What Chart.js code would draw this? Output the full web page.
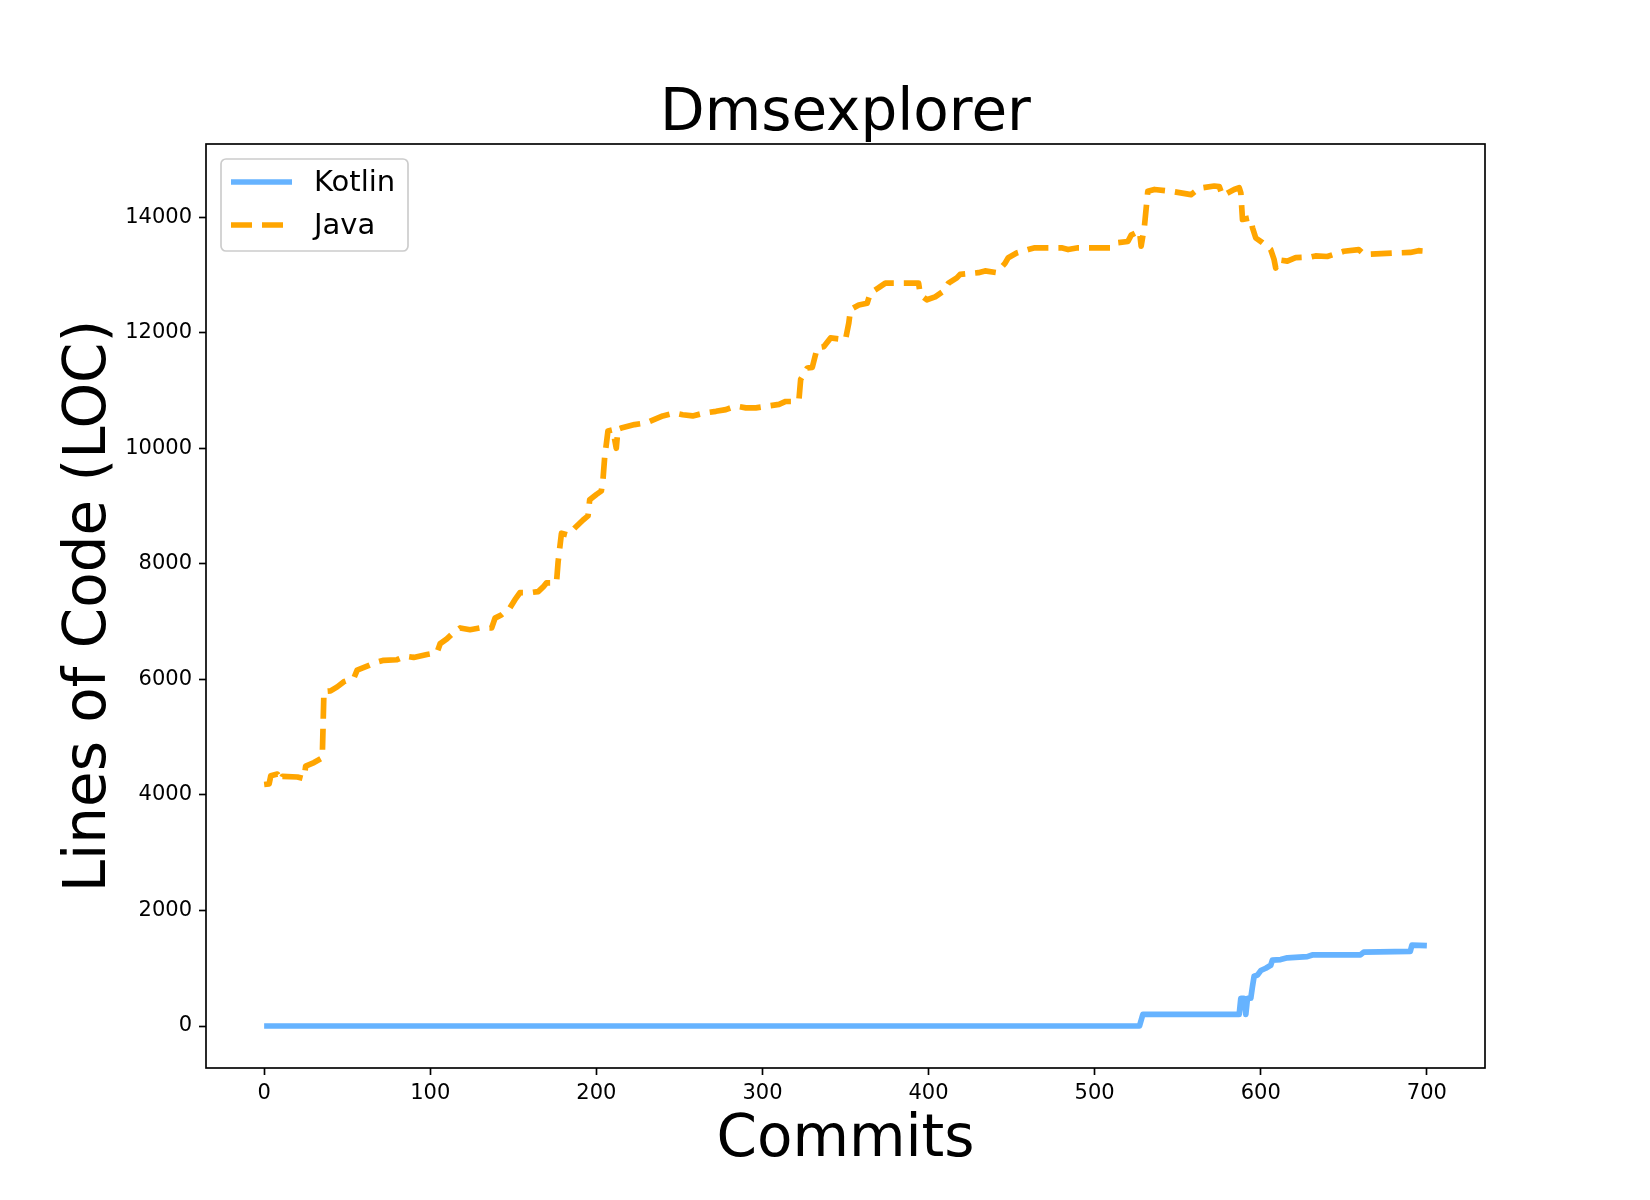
<!DOCTYPE html>
<html>
<head>
<meta charset="utf-8">
<script src="https://cdn.jsdelivr.net/npm/chart.js@4.4.0/dist/chart.umd.min.js"></script>
<style>
  body { margin: 0; background: #fff; }
  canvas { display: block; }
</style>
</head>
<body>
<canvas id="myChart" width="1650" height="1200"></canvas>
<script>
// values: [commit, lines of code] at each change
var kotlinPoints = [
	[0, 0], [527, 0], [529, 200], [587, 200], [588, 480], [590, 480], [591, 200],
	[592, 480], [594, 480], [595, 680], [596, 860], [598, 880], [600, 960],
	[603, 1000], [606, 1050], [607, 1140], [612, 1150], [616, 1180], [628, 1200],
	[631, 1230], [660, 1230], [662, 1280], [690, 1290], [691, 1400], [700, 1390]
];
var javaPoints = [
	[0, 4180], [3, 4190], [4, 4330], [8, 4360], [10, 4250], [11, 4320], [20, 4310],
	[24, 4280], [25, 4500], [30, 4560], [35, 4640], [36, 5790], [40, 5800],
	[44, 5870], [48, 5960], [54, 6020], [56, 6160], [62, 6230], [67, 6290],
	[72, 6330], [80, 6340], [85, 6400], [90, 6380], [98, 6430], [104, 6460],
	[106, 6620], [110, 6700], [113, 6780], [118, 6890], [124, 6860], [130, 6890],
	[137, 6890], [139, 7060], [143, 7120], [148, 7240], [151, 7380], [154, 7500],
	[160, 7500], [165, 7520], [168, 7600], [170, 7670], [176, 7670], [177, 8040],
	[179, 8530], [183, 8500], [187, 8620], [192, 8760], [195, 8830], [196, 9110],
	[200, 9200], [203, 9260], [204, 9460], [205, 9840], [207, 10300], [210, 10320],
	[212, 10000], [213, 10330], [215, 10350], [223, 10410], [230, 10440],
	[235, 10500], [240, 10560], [247, 10610], [252, 10580], [258, 10560],
	[265, 10610], [272, 10640], [278, 10670], [284, 10730], [290, 10700],
	[296, 10700], [303, 10730], [310, 10760], [314, 10810], [321, 10810],
	[322, 10850], [323, 11190], [327, 11390], [330, 11400], [333, 11740],
	[337, 11760], [341, 11910], [350, 11880], [352, 12170], [353, 12400],
	[358, 12480], [363, 12510], [365, 12690], [370, 12780], [374, 12860],
	[394, 12860], [395, 12660], [399, 12570], [404, 12620], [409, 12720],
	[412, 12860], [417, 12950], [419, 13010], [430, 13040], [434, 13070],
	[441, 13040], [446, 13200], [448, 13300], [453, 13380], [460, 13440],
	[464, 13470], [480, 13470], [484, 13440], [490, 13470], [510, 13470],
	[514, 13560], [520, 13580], [522, 13690], [527, 13760], [528, 13500],
	[530, 13850], [532, 14450], [536, 14480], [546, 14450], [558, 14390],
	[563, 14500], [572, 14540], [575, 14530], [577, 14370], [584, 14480],
	[587, 14510], [588, 14420], [589, 13960], [594, 13990], [595, 13820],
	[597, 13640], [601, 13560], [606, 13440], [608, 13270], [609, 13120],
	[611, 13260], [616, 13240], [621, 13300], [630, 13310], [633, 13330],
	[640, 13320], [650, 13410], [659, 13440], [662, 13360], [666, 13360],
	[680, 13380], [690, 13390], [695, 13420], [700, 13410]
];
var seriesNames = ['Kotlin', 'Java'];
var xTicks = [0, 100, 200, 300, 400, 500, 600, 700];
var yTicks = [0, 2000, 4000, 6000, 8000, 10000, 12000, 14000];

var FONT = '"DejaVu Sans", sans-serif';
var kotlinColor = '#66b3ff';
var javaColor = '#ffa500';
var lw = 5.7;
var dash = [21, 10];

function toXY(list) {
	return list.map(function(p) { return {x: p[0], y: p[1]}; });
}

// matplotlib-like frame and legend
var framePlugin = {
	id: 'frame',
	afterDraw: function(chart) {
		var ctx = chart.ctx;
		var a = chart.chartArea;
		ctx.save();
		ctx.strokeStyle = '#000';
		ctx.lineWidth = 1.67;
		ctx.strokeRect(a.left, a.top, a.right - a.left, a.bottom - a.top);

		// legend box
		var bx = 221, by = 159, bw = 187, bh = 92, r = 5;
		ctx.beginPath();
		ctx.moveTo(bx + r, by);
		ctx.arcTo(bx + bw, by, bx + bw, by + bh, r);
		ctx.arcTo(bx + bw, by + bh, bx, by + bh, r);
		ctx.arcTo(bx, by + bh, bx, by, r);
		ctx.arcTo(bx, by, bx + bw, by, r);
		ctx.closePath();
		ctx.fillStyle = 'rgba(255,255,255,0.8)';
		ctx.fill();
		ctx.strokeStyle = '#cccccc';
		ctx.lineWidth = 1.67;
		ctx.stroke();

		var rows = [
			{y: 182, color: kotlinColor, dash: []},
			{y: 225, color: javaColor, dash: dash}
		];
		ctx.font = '29px ' + FONT;
		ctx.textBaseline = 'middle';
		ctx.textAlign = 'left';
		for (var i = 0; i < rows.length; i++) {
			ctx.beginPath();
			ctx.setLineDash(rows[i].dash);
			ctx.strokeStyle = rows[i].color;
			ctx.lineWidth = lw;
			ctx.moveTo(231, rows[i].y);
			ctx.lineTo(292, rows[i].y);
			ctx.stroke();
			ctx.setLineDash([]);
			ctx.fillStyle = '#000';
			ctx.fillText(seriesNames[i], 314, rows[i].y + 1);
		}
		ctx.restore();
	}
};

var ctx = document.getElementById('myChart').getContext('2d');
var myChart = new Chart(ctx, {
	type: 'line',
	data: {
		datasets: [{
			label: seriesNames[0],
			data: toXY(kotlinPoints),
			borderColor: kotlinColor,
			borderWidth: lw,
			borderJoinStyle: 'round',
			pointRadius: 0,
			tension: 0
		}, {
			label: seriesNames[1],
			data: toXY(javaPoints),
			borderColor: javaColor,
			borderWidth: lw,
			borderDash: dash,
			borderJoinStyle: 'round',
			pointRadius: 0,
			tension: 0
		}]
	},
	options: {
		responsive: false,
		devicePixelRatio: 1,
		animation: false,
		layout: { padding: { left: 0, right: 165, top: 0, bottom: 0 } },
		plugins: {
			legend: { display: false },
			tooltip: { enabled: false },
			title: {
				display: true,
				text: 'Dmsexplorer',
				fullSize: false,
				color: '#000',
				font: { family: FONT, size: 58, weight: 'normal', lineHeight: 1 },
				padding: { top: 86, bottom: 0 }
			}
		},
		scales: {
			x: {
				type: 'linear',
				min: -35,
				max: 735,
				afterFit: function(s) { s.height = 132; },
				afterBuildTicks: function(s) {
					s.ticks = xTicks.map(function(v) { return {value: v}; });
				},
				ticks: {
					color: '#000',
					font: { family: FONT, size: 21 },
					padding: 6,
					maxRotation: 0,
					autoSkip: false
				},
				grid: {
					display: true,
					drawOnChartArea: false,
					drawTicks: true,
					tickLength: 7,
					tickWidth: 1.67,
					tickColor: '#000'
				},
				border: { display: false },
				title: {
					display: true,
					text: 'Commits',
					color: '#000',
					font: { family: FONT, size: 58, lineHeight: 1 },
					padding: { top: 0, bottom: 30 }
				}
			},
			y: {
				type: 'linear',
				min: -727,
				max: 15267,
				afterFit: function(s) { s.width = 206; },
				afterBuildTicks: function(s) {
					s.ticks = yTicks.map(function(v) { return {value: v}; });
				},
				ticks: {
					color: '#000',
					font: { family: FONT, size: 21 },
					padding: 7,
					autoSkip: false,
					callback: function(v) { return String(v); }
				},
				grid: {
					display: true,
					drawOnChartArea: false,
					drawTicks: true,
					tickLength: 7,
					tickWidth: 1.67,
					tickColor: '#000'
				},
				border: { display: false },
				title: {
					display: true,
					text: 'Lines of Code (LOC)',
					color: '#000',
					font: { family: FONT, size: 58, lineHeight: 1 },
					padding: { top: 61, bottom: 0 }
				}
			}
		}
	},
	plugins: [framePlugin]
});
</script>
</body>
</html>
